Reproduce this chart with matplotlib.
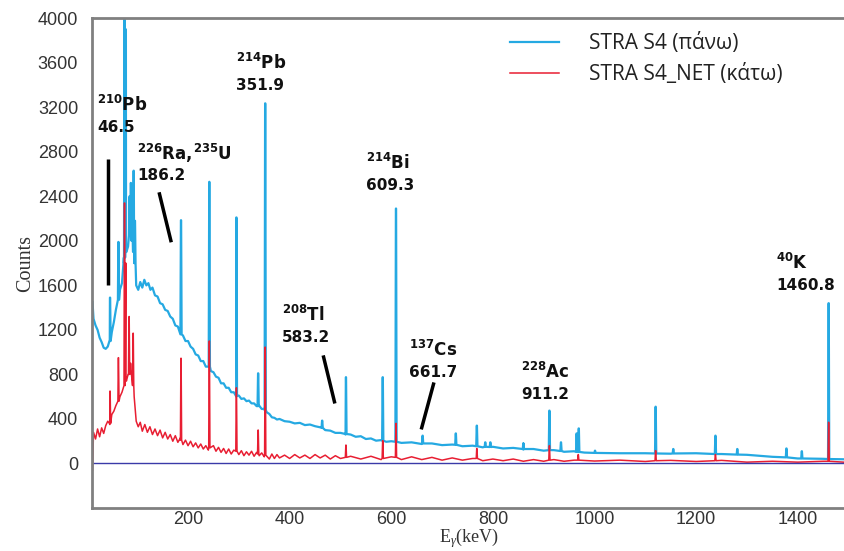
import matplotlib
matplotlib.use("Agg")
import matplotlib.pyplot as plt
import numpy as np

# continuum of the upper spectrum (energy keV, counts)
blue_cont_e = [12, 14, 18, 22, 26, 30, 34, 38, 42, 46, 50, 54, 58, 62, 66, 70,
               74, 78, 82, 86, 90, 94, 98, 102, 106, 110, 114, 118, 122, 126, 130,
               135, 140, 145, 150, 155, 160, 165, 170, 175, 180, 185, 190, 195, 200,
               205, 210, 215, 220, 225, 230, 235, 240, 245, 250, 255, 260, 265, 270,
               275, 280, 285, 290, 295, 300, 305, 310, 315, 320, 325, 330, 335, 340,
               345, 350, 355, 360, 365, 370, 375, 380, 390, 400, 410, 420, 430, 440,
               450, 460, 470, 480, 490, 500, 510, 520, 530, 540, 550, 560, 570, 580,
               590, 600, 620, 640, 660, 680, 700, 720, 740, 760, 780, 800, 820, 840,
               860, 880, 900, 920, 940, 960, 980, 1000, 1050, 1100, 1150, 1200, 1250,
               1300, 1350, 1400, 1450, 1490]
blue_cont_c = [1450, 1300, 1240, 1200, 1130, 1090, 1040, 1030, 1050, 1110, 1180, 1270, 1380, 1470, 1560, 1620,
               1800, 1900, 1950, 2100, 2000, 1800, 1600, 1560, 1630, 1580, 1650, 1600, 1620, 1560, 1580,
               1510, 1500, 1440, 1430, 1380, 1370, 1320, 1300, 1240, 1230, 1160, 1150, 1100, 1100,
               1050, 1030, 980, 970, 920, 920, 870, 870, 830, 820, 780, 770, 720, 720,
               680, 680, 640, 640, 600, 610, 580, 585, 560, 565, 540, 540, 515, 520,
               490, 490, 460, 445, 415, 410, 395, 400, 380, 375, 360, 365, 345, 350,
               335, 325, 300, 295, 275, 275, 260, 260, 240, 245, 220, 225, 205, 210,
               195, 200, 185, 190, 175, 180, 165, 170, 155, 160, 145, 150, 135, 140,
               125, 130, 115, 120, 105, 110, 98, 100, 92, 92, 88, 92, 85,
               78, 60, 45, 42, 38]

# continuum of the net spectrum
red_cont_e = [12, 14, 18, 22, 26, 30, 34, 38, 42, 46, 50, 54, 58, 62, 66, 70, 74, 78,
              82, 86, 90, 94, 98, 102, 106, 110, 115, 120, 125, 130, 135, 140, 145,
              150, 155, 160, 165, 170, 175, 180, 185, 190, 195, 200, 205, 210, 215,
              220, 225, 230, 235, 240, 250, 255, 260, 265, 270, 275, 280, 285, 290,
              300, 305, 310, 315, 320, 325, 330, 335, 340, 345, 350, 360, 365, 370,
              375, 380, 390, 400, 410, 420, 430, 440, 450, 460, 470, 480, 490, 500,
              520, 540, 560, 580, 600, 620, 640, 660, 680, 700, 720, 740, 760, 780,
              800, 820, 840, 860, 880, 900, 920, 940, 960, 1000, 1050, 1100, 1150,
              1200, 1250, 1300, 1350, 1400, 1450, 1490]
red_cont_c = [-60, 280, 220, 310, 240, 320, 270, 340, 380, 350, 440, 470, 520, 560, 600, 640, 700, 760,
              800, 820, 740, 600, 380, 330, 370, 290, 350, 280, 330, 260, 310, 250, 300,
              230, 280, 220, 260, 200, 250, 190, 230, 170, 210, 160, 200, 150, 185,
              140, 175, 130, 160, 120, 160, 110, 145, 100, 135, 90, 130, 85, 120,
              80, 115, 70, 105, 75, 110, 65, 100, 70, 95, 60, 40, 85, 45,
              80, 50, 75, 45, 80, 50, 75, 45, 80, 50, 75, 40, 70, 45,
              65, 40, 65, 35, 60, 35, 60, 35, 55, 30, 50, 30, 45, 25,
              40, 25, 40, 20, 35, 20, 35, 20, 30, 22, 30, 18, 28,
              18, 28, 12, 20, 12, 20, 12]

# peaks: energy, top, base
blue_pk_e = [46.5, 63, 75, 77.5, 85, 87.5, 90, 93, 95.5, 186.2, 241.9, 295.2, 338,
             351.9, 464, 510.8, 583.2, 609.3, 661.7, 727, 768.4, 785, 795, 860,
             911.2, 934, 964.8, 969, 1001, 1120.3, 1155, 1238, 1281, 1377.7, 1408, 1460.8]
blue_pk_top = [1490, 1990, 3990, 3900, 2400, 2520, 2280, 2630, 2180, 2185, 2530, 2210, 810,
               3235, 385, 775, 775, 2290, 250, 270, 340, 190, 190, 180,
               475, 190, 270, 315, 115, 510, 130, 250, 130, 135, 110, 1440]
blue_pk_base = [1100, 1470, 1850, 1900, 2050, 2100, 2000, 1900, 1800, 1160, 870, 610, 515,
                480, 320, 265, 205, 195, 180, 168, 155, 150, 148, 130,
                120, 112, 104, 104, 95, 90, 90, 85, 80, 55, 45, 40]

red_pk_e = [46.5, 63, 75, 77.5, 84, 87, 92, 186.2, 241.9, 295.2, 338, 351.9,
            510.8, 583.2, 609.3, 768.4, 911.2, 968, 1120.3, 1238, 1460.8]
red_pk_top = [650, 950, 2340, 1800, 1320, 900, 1170, 945, 1100, 680, 300, 1045,
              165, 205, 360, 135, 160, 80, 115, 80, 370]
red_pk_base = [360, 560, 700, 740, 800, 820, 700, 210, 140, 110, 85, 75,
               55, 45, 55, 45, 30, 30, 25, 25, 20]

labels = ['STRA S4 (πάνω)', 'STRA S4_NET (κάτω)']
xticks = [200, 400, 600, 800, 1000, 1200, 1400]
yticks = list(range(0, 4001, 400))


def build(ce, cc, pe, ptop, pbase, w=1.2):
    e = list(ce)
    c = list(cc)
    for x, t, b in zip(pe, ptop, pbase):
        e += [x - w, x - 0.2, x + 0.2, x + w]
        c += [b, t, t, b]
    idx = np.argsort(e, kind='stable')
    return np.array(e)[idx], np.array(c)[idx]


be, bc = build(blue_cont_e, blue_cont_c, blue_pk_e, blue_pk_top, blue_pk_base)
re_, rc = build(red_cont_e, red_cont_c, red_pk_e, red_pk_top, red_pk_base)

plt.rcParams['mathtext.fontset'] = 'custom'
plt.rcParams['mathtext.rm'] = 'Liberation Serif'
plt.rcParams['mathtext.it'] = 'Liberation Serif:italic'

fig = plt.figure(figsize=(8.44, 5.51), dpi=100)
ax = fig.add_axes([0.109, 0.078, 0.891, 0.889])

ax.plot(be, bc, color='#25a9e2', lw=1.6, label=labels[0])
ax.plot(re_, rc, color='#e81e32', lw=1.1, label=labels[1])
ax.axhline(0, color='#3a3aa8', lw=1.0)

ax.set_xlim(11, 1491)
ax.set_ylim(-400, 4000)
ax.set_xticks(xticks)
ax.set_yticks(yticks)
ax.tick_params(length=0, labelsize=13, labelcolor='#333333')
ax.tick_params(axis='x', pad=2)
ax.tick_params(axis='y', pad=10)
for t in ax.get_xticklabels() + ax.get_yticklabels():
    t.set_family('Liberation Sans')
for s in ['left', 'bottom', 'top']:
    ax.spines[s].set_color('#808080')
    ax.spines[s].set_linewidth(2)
ax.spines['right'].set_visible(False)

ax.set_ylabel('Counts', family='Liberation Serif', fontsize=14.5, color='#333333', labelpad=2)
fig.text(0.556, 0.002, r'E$_\gamma$(keV)', family='Liberation Serif', fontsize=13,
         color='#333333', ha='center', va='bottom')

leg = ax.legend(loc='upper left', bbox_to_anchor=(0.531, 1.008), frameon=False,
                handlelength=2.35, handletextpad=1.45, labelspacing=0.5,
                prop={'family': 'Open Sans', 'size': 15})
for t in leg.get_texts():
    t.set_color('#222222')

# nuclide labels
nuc = [(21, 3218, '210', 'Pb', '46.5'),
       (100, 2787, '226', 'Ra,', '186.2'),
       (294, 3595, '214', 'Pb', '351.9'),
       (550, 2696, '214', 'Bi', '609.3'),
       (385, 1330, '208', 'Tl', '583.2'),
       (635, 1016, '137', 'Cs', '661.7'),
       (855, 818, '228', 'Ac', '911.2'),
       (1357, 1798, '40', 'K', '1460.8')]
for x, y, mass, sym, en in nuc:
    if sym == 'Ra,':
        s = r'$^{\mathbf{226}}\mathbf{Ra,\!}^{\mathbf{235}}\mathbf{U}$'
    else:
        s = r'$^{\mathbf{%s}}\mathbf{%s}$' % (mass, sym)
    ax.text(x, y, s, fontsize=12, va='center', ha='left', color='#111111',
            math_fontfamily='dejavusans')
    ax.text(x, y - 200, en, fontsize=11, fontweight='bold', va='center', ha='left',
            color='#111111', family='DejaVu Sans')

# pointer lines
ptr = [((42.5, 42.5), (2733, 1600)),
       ((143, 167), (2436, 1987)),
       ((466, 489), (971, 539)),
       ((684, 659), (728, 306))]
for xs, ys in ptr:
    ax.plot(xs, ys, color='black', lw=2.5, solid_capstyle='butt')

fig.savefig('out.png', dpi=100)
